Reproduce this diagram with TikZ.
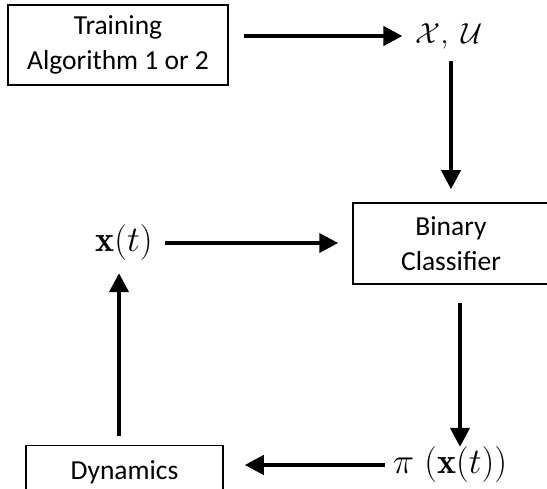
\RequirePackage{fix-cm}
\documentclass[tikz,border=0pt]{standalone}
\usepackage{fontspec}
\newfontfamily\carlito{Carlito}
\usetikzlibrary{arrows.meta}
\tikzset{
  box/.style={draw, line width=1.5pt, inner sep=0pt, align=center, font=\carlito\fontsize{27.5}{35.5}\selectfont},
  mth/.style={inner sep=0pt, font=\fontsize{36}{40}\selectfont},
  arr/.style={line width=4pt, -{Triangle[length=19pt,width=19pt]}}
}
\begin{document}
\begin{tikzpicture}[x=1pt,y=-1pt]
\clip (0,0) rectangle (547,489);
\node[box, minimum width=220pt, minimum height=80pt] (train) at (118,45) {Training\\Algorithm 1 or 2};
\node[mth, font=\fontsize{29}{33}\selectfont] (xu) at (449,36) {$\mathcal{X},\;\mathcal{U}$};
\node[box, minimum width=196pt, minimum height=81pt] (bin) at (451,243.5) {Binary\\Classifier};
\node[mth] (xt) at (124,243) {$\mathbf{x}(t)$};
\node[mth] (pi) at (450,465) {$\pi\;\bigl(\mathbf{x}(t)\bigr)$};
\node[box, anchor=north, minimum width=197pt, text height=20pt, text depth=40pt, inner ysep=13.5pt] (dyn) at (124.5,445) {Dynamics};
\draw[arr, shorten <=15pt] (train.east |- xu) -- ([xshift=-13pt]xu.west);
\draw[arr, shorten <=12pt, shorten >=13pt] (bin.north |- xu.south) -- (bin.north);
\draw[arr, shorten <=12pt, shorten >=14pt] (xt.east) -- (bin.west |- xt);
\draw[arr, shorten <=18pt] ([xshift=9pt]bin.south) -- ([xshift=9pt]bin.south |- pi.north);
\draw[arr, shorten <=8pt, shorten >=21pt] (pi.west) -- (dyn.east |- pi);
\draw[arr, shorten <=9pt, shorten >=12pt] ([xshift=-5pt]xt.south |- dyn.north) -- ([xshift=-5pt]xt.south);
\end{tikzpicture}
\end{document}
